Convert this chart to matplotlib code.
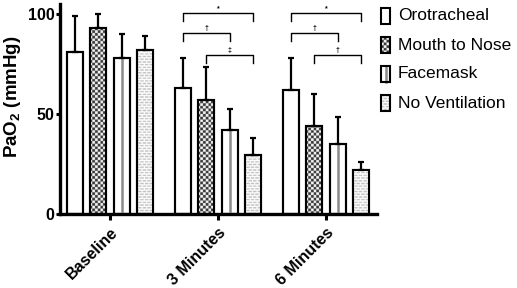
import numpy as np
import matplotlib
matplotlib.use("Agg")
import matplotlib.pyplot as plt
import matplotlib.transforms as mtransforms
from matplotlib.patches import Rectangle

plt.rcParams['font.family'] = ['Liberation Sans', 'DejaVu Sans']
plt.rcParams['mathtext.fontset'] = 'custom'
plt.rcParams['mathtext.rm'] = 'Liberation Sans:bold'
plt.rcParams['mathtext.bf'] = 'Liberation Sans:bold'

# ---- data ----
groups = ["Baseline", "3 Minutes", "6 Minutes"]
series = ["Orotracheal", "Mouth to Nose", "Facemask", "No Ventilation"]
orotracheal = [81, 63, 62]
orotracheal_sd = [18, 15, 16]
mouth_nose = [93, 57, 44]
mouth_nose_sd = [7, 16.5, 16]
facemask = [78, 42, 35]
facemask_sd = [12, 10.5, 13.5]
no_vent = [82, 29.5, 22]
no_vent_sd = [7, 8.5, 4]
yticks = [0, 50, 100]
# significance brackets: (group index, from series, to series, bracket height, label)
brackets = [
    (1, 0, 3, 100.5, "*"), (1, 0, 2, 90.5, "†"), (1, 1, 3, 79.5, "‡"),
    (2, 0, 3, 100.5, "*"), (2, 0, 2, 90.5, "†"), (2, 1, 3, 79.5, "†"),
]

means = [orotracheal, mouth_nose, facemask, no_vent]
sds = [orotracheal_sd, mouth_nose_sd, facemask_sd, no_vent_sd]
patterns = ["plain", "checker", "stripe", "brick"]

W, H, DPI = 5.17, 2.88, 100
fig = plt.figure(figsize=(W, H), dpi=DPI)
ax_px = (60, 214, 377, 4)  # left, bottom(y from top), right, top
ax = fig.add_axes([ax_px[0] / 517, 1 - ax_px[1] / 288,
                   (ax_px[2] - ax_px[0]) / 517, (ax_px[1] - ax_px[3]) / 288])
XL = (-0.463, 2.472)
YL = (0, 105)

def texture(kind, wpx, hpx, ss=4):
    h, w = int(hpx * ss), int(wpx * ss)
    ii, jj = np.mgrid[0:h, 0:w]
    img = np.ones((h, w, 3))
    if kind == "checker":
        c = 2.7 * ss
        m = ((np.floor(ii / c) + np.floor(jj / c)) % 2).astype(bool)
        img[m] = 0.22
        img[~m] = 0.96
    elif kind == "brick":
        P = 2.7 * ss
        row = np.floor(ii / P)
        iny = (ii % P) < 1.4 * ss
        per = 4.6 * ss
        off = (row % 2) * per / 2
        inx = ((jj + off) % per) < 3.5 * ss
        m = iny & inx
        img[m] = 0.76
    return img

x = np.arange(len(groups))
pitch, width = 0.2176, 0.148
offs = (np.arange(4) - 1.5) * pitch

tex = {k: texture(k, ax_px[2] - ax_px[0], ax_px[1] - ax_px[3]) for k in ["checker", "brick"]}

for s in range(4):
    xs = x + offs[s]
    bars = ax.bar(xs, means[s], width, color="white", edgecolor="black", linewidth=1.5, zorder=2)
    if patterns[s] in tex:
        for b in bars:
            im = ax.imshow(tex[patterns[s]], extent=(XL[0], XL[1], YL[0], YL[1]), origin="lower",
                           aspect="auto", interpolation="antialiased", zorder=2.5)
            im.set_clip_path(b)
    if patterns[s] == "stripe":
        ax.vlines(xs, 0, means[s], color="#8a8a8a", linewidth=1.8, zorder=2.6)
    ax.bar(xs, means[s], width, fill=False, edgecolor="black", linewidth=1.5, zorder=3)
    ax.errorbar(xs, means[s], yerr=[np.zeros(3), sds[s]], fmt="none", ecolor="black",
                elinewidth=1.6, capsize=2.4, capthick=1.6, zorder=4)

for g, a, b, yb, lab in brackets:
    xa, xb = x[g] + offs[a], x[g] + offs[b]
    ax.plot([xa, xa, xb, xb], [yb - 3.8, yb, yb, yb - 3.8], color="black", lw=1.0,
            clip_on=False, zorder=5)
    ax.text((xa + xb) / 2, yb + 0.6, lab, ha="center", va="bottom",
            fontsize=5, fontweight="bold", zorder=5)

ax.set_xlim(*XL)
ax.set_ylim(*YL)
ax.set_yticks(yticks)
ax.set_yticklabels([str(t) for t in yticks], fontsize=11.5, fontweight="bold")
ax.set_xticks(x)
ax.set_xticklabels(groups, rotation=45, ha="right", rotation_mode="anchor",
                   fontsize=11.5, fontweight="bold")
shift = mtransforms.ScaledTranslation(-3 / DPI, 2 / DPI, fig.dpi_scale_trans)
for lbl in ax.get_xticklabels():
    lbl.set_transform(lbl.get_transform() + shift)
ax.tick_params(axis="y", length=3, width=2.2, pad=1)
ax.tick_params(axis="x", length=4, width=2.2, pad=4)
for sp in ["top", "right"]:
    ax.spines[sp].set_visible(False)
for sp in ["left", "bottom"]:
    ax.spines[sp].set_linewidth(2.4)
ax.set_ylabel(r"PaO$_{\mathbf{2}}$ (mmHg)", fontsize=13.5, fontweight="bold")
ax.yaxis.label.set_verticalalignment("center")
ax.yaxis.set_label_coords((12.5 - ax_px[0]) / (ax_px[2] - ax_px[0]), 0.56)

# ---- legend drawn in pixel coordinates ----
lax = fig.add_axes([0, 0, 1, 1], zorder=10)
lax.set_xlim(0, 517)
lax.set_ylim(288, 0)
lax.axis("off")
lax.patch.set_alpha(0)
row_y = [15.5, 45, 74, 103]
bx0, bw, bh = 381, 9, 16
for s in range(4):
    yc = row_y[s]
    r = Rectangle((bx0, yc - bh / 2), bw, bh, facecolor="white", edgecolor="none", zorder=1)
    lax.add_patch(r)
    if patterns[s] in tex:
        t = texture(patterns[s], bw, bh)
        im = lax.imshow(t, extent=(bx0, bx0 + bw, yc + bh / 2, yc - bh / 2), origin="upper",
                        aspect="auto", interpolation="antialiased", zorder=2)
        im.set_clip_path(r)
    if patterns[s] == "stripe":
        lax.plot([bx0 + bw / 2] * 2, [yc - bh / 2, yc + bh / 2], color="#8a8a8a", lw=1.8, zorder=2.5)
    lax.add_patch(Rectangle((bx0, yc - bh / 2), bw, bh, fill=False, edgecolor="black",
                            linewidth=1.5, zorder=3))
    lax.text(398, yc, series[s], ha="left", va="center", fontsize=12.5, zorder=3)
lax.set_xlim(0, 517)
lax.set_ylim(288, 0)

fig.savefig("out.png", dpi=DPI)
